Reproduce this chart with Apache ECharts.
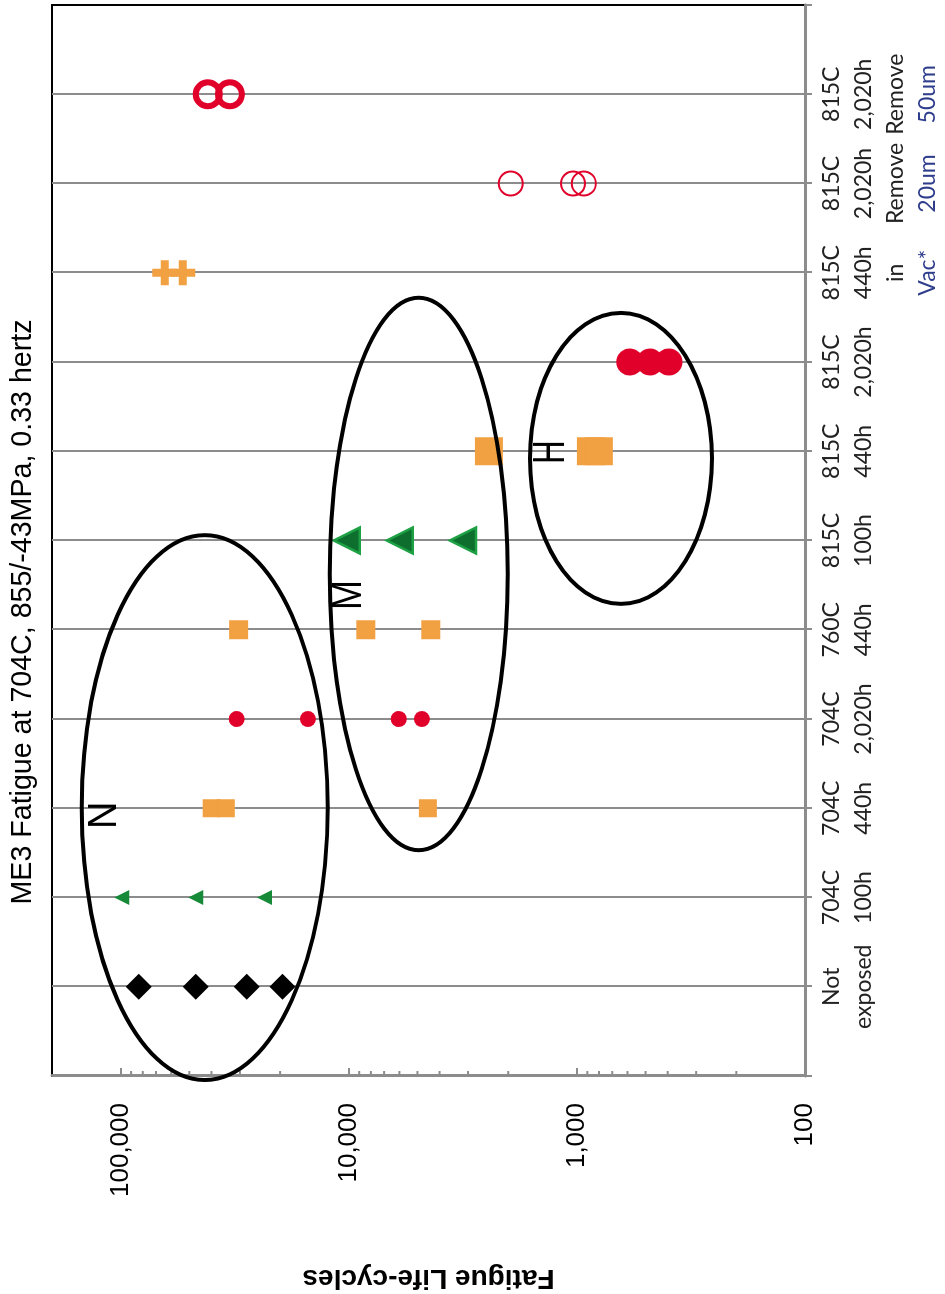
<!DOCTYPE html>
<html><head><meta charset="utf-8">
<script src="https://cdn.jsdelivr.net/npm/echarts@6/dist/echarts.min.js"></script>
<style>
html,body{margin:0;padding:0;background:#fff;overflow:hidden;width:945px;height:1294px;}
#chart{position:absolute;left:0;top:0;width:1294px;height:945px;transform-origin:0 0;transform:translate(0,1294px) rotate(-90deg);}
</style></head><body><div id="chart"></div>
<script>
// ---- data (chart drawn in landscape, page rotated) ----
const categories = ['Not\nexposed', '704C\n100h', '704C\n440h', '704C\n2,020h', '760C\n440h',
  '815C\n100h', '815C\n440h', '815C\n2,020h', '815C\n440h\nin\n{b|Vac*}',
  '815C\n2,020h\nRemove\n{b|20um}', '815C\n2,020h\nRemove\n{b|50um}'];
const valueTickLabels = {100: '100', 1000: '1,000', 10000: '10,000', 100000: '100,000'};
const minorTickValues = [200, 300, 400, 500, 600, 700, 800, 900,
  2000, 3000, 4000, 5000, 6000, 7000, 8000, 9000,
  20000, 30000, 40000, 50000, 60000, 70000, 80000, 90000];
const titleText = 'ME3 Fatigue at 704C, 855/-43MPa, 0.33 hertz';
const axisTitle = 'Fatigue Life-cycles';

const notExposed = [83400, 46900, 28000, 19500];
const c704_100h = [99000, 46900, 23400];
const c704_440h = [39900, 34600, 4500];
const c704_2020h = [31000, 15100, 6040, 4780];
const c760_440h = [30400, 8420, 4370];
const c815_100h = [10200, 5980, 3160];
const c815_440h = [2430, 868, 801];
const c815_2020h = [586, 478, 395];
const c815_440h_vac = [64100, 53500];
const c815_2020h_rm20 = [1950, 1040, 932];
const c815_2020h_rm50 = [41500, 33200];

// ellipses: [catFrom, catTo, valueLow, valueHigh]
const ellipses = [[-0.045, 6.06, 12360, 148300], [2.53, 8.72, 2010, 12110], [5.29, 8.55, 256, 1607]];
const letters = ['N', 'M', 'H'];
const letterPos = [[2.92, 117000], [5.39, 10000], [6.99, 1290]];
const letterFont = [38, 36, 33];
const letterStretch = [1.05, 1.2, 1.35];

const RED = '#e0002a', ORANGE = '#f1a042', GREEN = '#178a3a';
const PLUS = 'path://M34,0H66V34H100V66H66V100H34V66H0V34H34Z';

function pts(catIdx, vals) { return vals.map(v => [catIdx + 1, v]); }
function sc(catIdx, vals, symbol, size, itemStyle, z) {
  itemStyle.opacity = 1;
  return { type: 'scatter', data: pts(catIdx, vals), symbol: symbol, symbolSize: size,
    itemStyle: itemStyle, z: z || 3, silent: true, clip: false };
}

const chart = echarts.init(document.getElementById('chart'), null, {renderer: 'canvas'});
chart.setOption({
  animation: false,
  backgroundColor: '#fff',
  grid: { left: 218, right: 5, top: 52, bottom: 140, show: true, borderColor: '#000', borderWidth: 2,
    backgroundColor: 'transparent', containLabel: false, outerBoundsMode: 'none' },
  graphic: [{
    type: 'text', x: 682, y: 23, z: 10,
    style: { text: titleText, font: '28.6px "Liberation Sans", Arial, sans-serif', fill: '#000',
      textAlign: 'center', textVerticalAlign: 'middle', align: 'center', verticalAlign: 'middle' }
  }],
  xAxis: {
    type: 'value', min: 0, max: 12, interval: 1, position: 'bottom',
    axisLine: { show: true, lineStyle: { color: '#8c8c8c', width: 3 } },
    axisTick: { show: true, inside: false, length: 7, lineStyle: { color: '#8c8c8c', width: 2 } },
    splitLine: { show: true, showMinLine: false, showMaxLine: false, lineStyle: { color: '#8c8c8c', width: 2 } },
    axisLabel: {
      show: true, margin: 11, interval: 0, hideOverlap: false,
      fontFamily: 'Lato', fontSize: 23, lineHeight: 32, color: '#222',
      formatter: function (v) { const i = Math.round(v); return (i >= 1 && i <= categories.length) ? categories[i - 1] : ''; },
      rich: { b: { color: '#2e3d8c', fontFamily: 'Lato', fontSize: 23, lineHeight: 32 } }
    }
  },
  yAxis: {
    type: 'log', logBase: 10, min: 100, max: 200000,
    name: axisTitle, nameLocation: 'middle', nameGap: 188, nameRotate: 90,
    nameTextStyle: { fontFamily: 'Liberation Sans', fontWeight: 'bold', fontSize: 28, color: '#000' },
    axisLine: { show: true, lineStyle: { color: '#8c8c8c', width: 3 } },
    axisTick: { show: true, inside: true, length: 8, lineStyle: { color: '#8c8c8c', width: 2 } },
    splitLine: { show: false },
    axisLabel: {
      margin: 27, fontFamily: 'Liberation Sans', fontSize: 26, color: '#000', showMaxLabel: false,
      formatter: function (v) { const k = Math.round(v); return valueTickLabels[k] || ''; }
    }
  },
  series: [
    sc(0, notExposed, 'diamond', 26, { color: '#000' }),
    sc(1, c704_100h, 'triangle', 15, { color: GREEN }),
    sc(2, c704_440h, 'rect', 18, { color: ORANGE }),
    sc(3, c704_2020h, 'circle', 16, { color: RED }),
    sc(4, c760_440h, 'rect', 19, { color: ORANGE }),
    sc(5, c815_100h, 'triangle', 26, { color: '#0d6e2e', borderColor: '#1ea045', borderWidth: 2.5 }),
    sc(6, c815_440h, 'rect', 28, { color: ORANGE }),
    sc(7, c815_2020h, 'circle', 27, { color: RED }),
    sc(8, c815_440h_vac, PLUS, 25, { color: ORANGE }),
    sc(9, c815_2020h_rm20, 'circle', 24, { color: 'rgba(255,255,255,0)', borderColor: RED, borderWidth: 2 }),
    sc(10, c815_2020h_rm50, 'circle', 24, { color: 'rgba(255,255,255,0)', borderColor: RED, borderWidth: 6 }),
    {
      type: 'custom', silent: true, z: 6, clip: false,
      data: minorTickValues.map(v => [0, v]),
      encode: { x: 0, y: 1 },
      renderItem: function (params, api) {
        const p = api.coord([0, api.value(1)]);
        return { type: 'line', shape: { x1: p[0], y1: p[1], x2: p[0] + 5, y2: p[1] },
          style: { stroke: '#8c8c8c', lineWidth: 2 } };
      }
    },
    {
      type: 'custom', silent: true, z: 8, clip: false,
      data: ellipses,
      encode: { x: [0, 1], y: [2, 3] },
      renderItem: function (params, api) {
        const a = api.coord([api.value(0), api.value(2)]);
        const b = api.coord([api.value(1), api.value(3)]);
        return { type: 'ellipse',
          shape: { cx: (a[0] + b[0]) / 2, cy: (a[1] + b[1]) / 2, rx: Math.abs(b[0] - a[0]) / 2, ry: Math.abs(b[1] - a[1]) / 2 },
          style: { fill: null, stroke: '#000', lineWidth: 4 } };
      }
    },
    {
      type: 'custom', silent: true, z: 9, clip: false,
      data: letterPos.map((p, i) => [p[0], p[1], i]),
      encode: { x: 0, y: 1 },
      renderItem: function (params, api) {
        const p = api.coord([api.value(0), api.value(1)]);
        const i = api.value(2);
        return { type: 'text', x: p[0], y: p[1], scaleY: letterStretch[i],
          style: { text: letters[i], font: letterFont[i] + 'px "Liberation Sans", Arial, sans-serif', fill: '#000',
            textAlign: 'center', textVerticalAlign: 'middle', align: 'center', verticalAlign: 'middle' } };
      }
    }
  ]
});
</script></body></html>
